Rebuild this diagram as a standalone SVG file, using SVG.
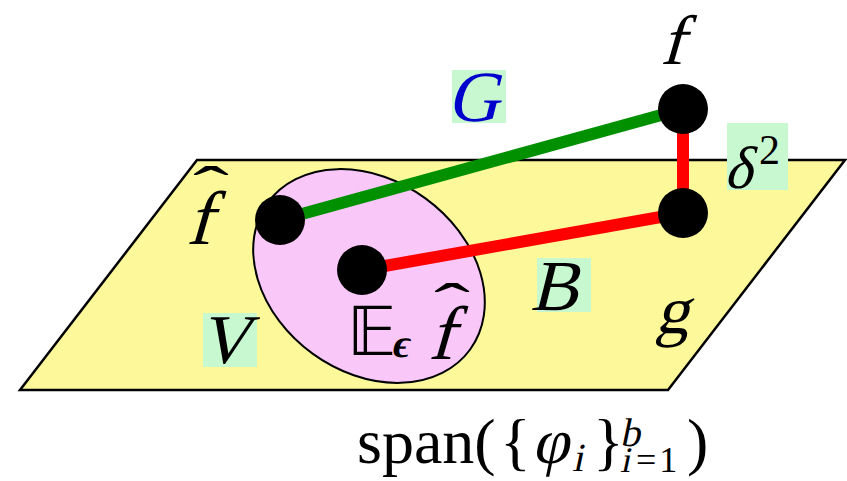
<svg xmlns="http://www.w3.org/2000/svg" width="847" height="481" viewBox="0 0 847 481">
<style>
.m{font-family:"Liberation Serif",serif;fill:#000}
.r{font-family:"Liberation Serif",serif;fill:#000}
.bg{fill:#c8f8d0}
.dot{fill:#000}
.hat{font-family:"Liberation Serif",serif;fill:#000}
</style>
<g id="plane"><polygon points="197,160 845,160 668,390 20,390" fill="#fdf99a" stroke="#000" stroke-width="2.5"/></g>
<g id="region-V"><ellipse cx="369" cy="276" rx="125" ry="96" transform="rotate(36 369 276)" fill="#f9c8f9" stroke="#000" stroke-width="2"/></g>
<g id="connectors">
<line x1="280" y1="220" x2="683" y2="109" stroke="#009000" stroke-width="12"/>
<line x1="362" y1="270" x2="683" y2="213" stroke="#ff0000" stroke-width="12"/>
<line x1="683" y1="109" x2="683" y2="213" stroke="#ff0000" stroke-width="12"/>
</g>
<g id="node-fhat"><circle class="dot" cx="280" cy="220" r="25"/></g>
<g id="node-Efhat"><circle class="dot" cx="362" cy="270" r="25"/></g>
<g id="node-f"><circle class="dot" cx="683" cy="109" r="25"/></g>
<g id="node-g"><circle class="dot" cx="683" cy="213" r="25"/></g>
<g id="labels">
<text class="m" x="660" y="64" font-size="70" transform="translate(0 64) skewX(-16) translate(0 -64)">f</text>
<rect class="bg" x="452" y="70" width="54" height="53"/>
<text class="m" x="447" y="121" font-size="72" style="fill:#0000cc" transform="translate(0 121) skewX(-14) translate(0 -121)">G</text>
<rect class="bg" x="727" y="123" width="61" height="67"/>
<text class="m" x="724" y="188" font-size="60" transform="translate(0 188) skewX(-14) translate(0 -188)">δ</text>
<text class="r" x="759" y="164" font-size="42">2</text>
<rect class="bg" x="537" y="258" width="54" height="54"/>
<text class="m" x="530" y="310" font-size="72" transform="translate(0 310) skewX(-14) translate(0 -310)">B</text>
<rect class="bg" x="203" y="313" width="54" height="54"/>
<text class="m" x="199" y="363" font-size="70" transform="translate(0 363) skewX(-14) translate(0 -363)">V</text>
<text class="m" x="655" y="333" font-size="68" transform="translate(0 333) skewX(-14) translate(0 -333)">g</text>
<text class="m" x="186" y="244" font-size="76" transform="translate(0 244) skewX(-16) translate(0 -244)">f</text>
<text class="hat" x="193" y="207" font-size="60" transform="translate(193 0) scale(1.8 1) translate(-193 0)">ˆ</text>
<text x="347" y="355" font-size="68" style="font-family:'DejaVu Sans',sans-serif">𝔼</text>
<text class="m" x="391" y="357" font-size="40" style="font-weight:bold" transform="translate(0 357) skewX(-12) translate(0 -357)">ϵ</text>
<text class="m" x="428" y="359" font-size="76" transform="translate(0 359) skewX(-16) translate(0 -359)">f</text>
<text class="hat" x="434" y="324" font-size="60" transform="translate(434 0) scale(1.8 1) translate(-434 0)">ˆ</text>
<text class="r" x="357" y="463" font-size="64">span(</text>
<text class="r" x="500" y="463" font-size="64">{</text>
<text class="m" x="532" y="463" font-size="64" transform="translate(0 463) skewX(-12) translate(0 -463)">φ</text>
<text class="m" x="572" y="471" font-size="40" transform="translate(0 471) skewX(-12) translate(0 -471)">i</text>
<text class="r" x="593" y="463" font-size="64">}</text>
<text class="m" x="620" y="446" font-size="40" transform="translate(0 446) skewX(-12) translate(0 -446)">b</text>
<text class="m" x="620" y="472" font-size="36" transform="translate(0 472) skewX(-12) translate(0 -472)">i</text>
<text class="r" x="636" y="472" font-size="36" letter-spacing="3">=1</text>
<text class="r" x="687" y="463" font-size="64">)</text>
</g>
</svg>
